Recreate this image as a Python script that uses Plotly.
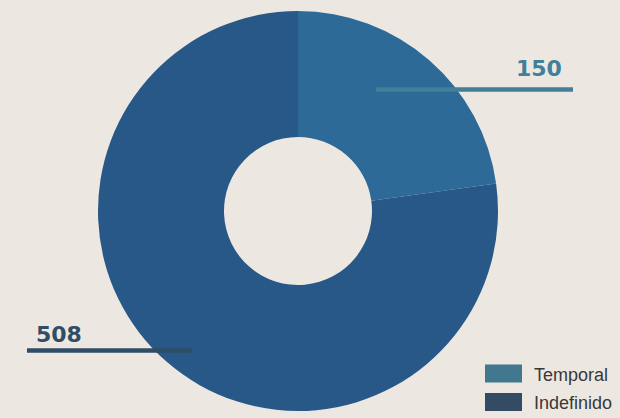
import plotly.graph_objects as go

categories = ["Temporal", "Indefinido"]
values = [150, 508]
slice_colors = ["#2d6a97", "#275887"]
legend_colors = ["#41788f", "#334b63"]
label_colors = ["#42809a", "#2f4d66"]

W, H = 620, 418
fig = go.Figure()
fig.add_trace(go.Pie(
    labels=categories, values=values, hole=0.37, sort=False,
    direction="clockwise", rotation=0,
    marker=dict(colors=slice_colors, line=dict(width=0)),
    textinfo="none", hoverinfo="label+value", showlegend=False,
    domain=dict(x=[98 / W, 498 / W], y=[1 - 411 / H, 1 - 11 / H]),
))

# value labels with leader lines
label_specs = [
    dict(x=538.5 / W, y=1 - 68.5 / H, lx0=376 / W, lx1=573 / W, ly=1 - 89.5 / H),
    dict(x=58.5 / W, y=1 - 334.5 / H, lx0=27 / W, lx1=192 / W, ly=1 - 350.5 / H),
]
for v, c, s in zip(values, label_colors, label_specs):
    fig.add_annotation(x=s["x"], y=s["y"], xref="paper", yref="paper", text=f"<b>{v}</b>",
                       xanchor="center", yanchor="middle", showarrow=False,
                       font=dict(family="DejaVu Sans", size=22, color=c))
    fig.add_shape(type="line", xref="paper", yref="paper", x0=s["lx0"], x1=s["lx1"], y0=s["ly"], y1=s["ly"],
                  line=dict(color=c, width=4.5))

# custom legend
for i, (cat, col) in enumerate(zip(categories, legend_colors)):
    yc = 373.5 + i * 28.5
    fig.add_shape(type="rect", xref="paper", yref="paper", x0=485 / W, x1=522 / W,
                  y0=1 - (yc + 9) / H, y1=1 - (yc - 9) / H, fillcolor=col, line=dict(width=0))
    fig.add_annotation(x=532 / W, y=1 - (yc + 1) / H, xref="paper", yref="paper", text=cat,
                       xanchor="left", yanchor="middle", showarrow=False,
                       font=dict(family="Liberation Sans, Arial", size=18, color="#383838"))

fig.update_layout(
    width=W, height=H, margin=dict(l=0, r=0, t=0, b=0),
    paper_bgcolor="#ece8e1", plot_bgcolor="#ece8e1",
)
fig.write_html("out.html", config={"displayModeBar": False},
               post_script="document.body.style.margin='0';")
